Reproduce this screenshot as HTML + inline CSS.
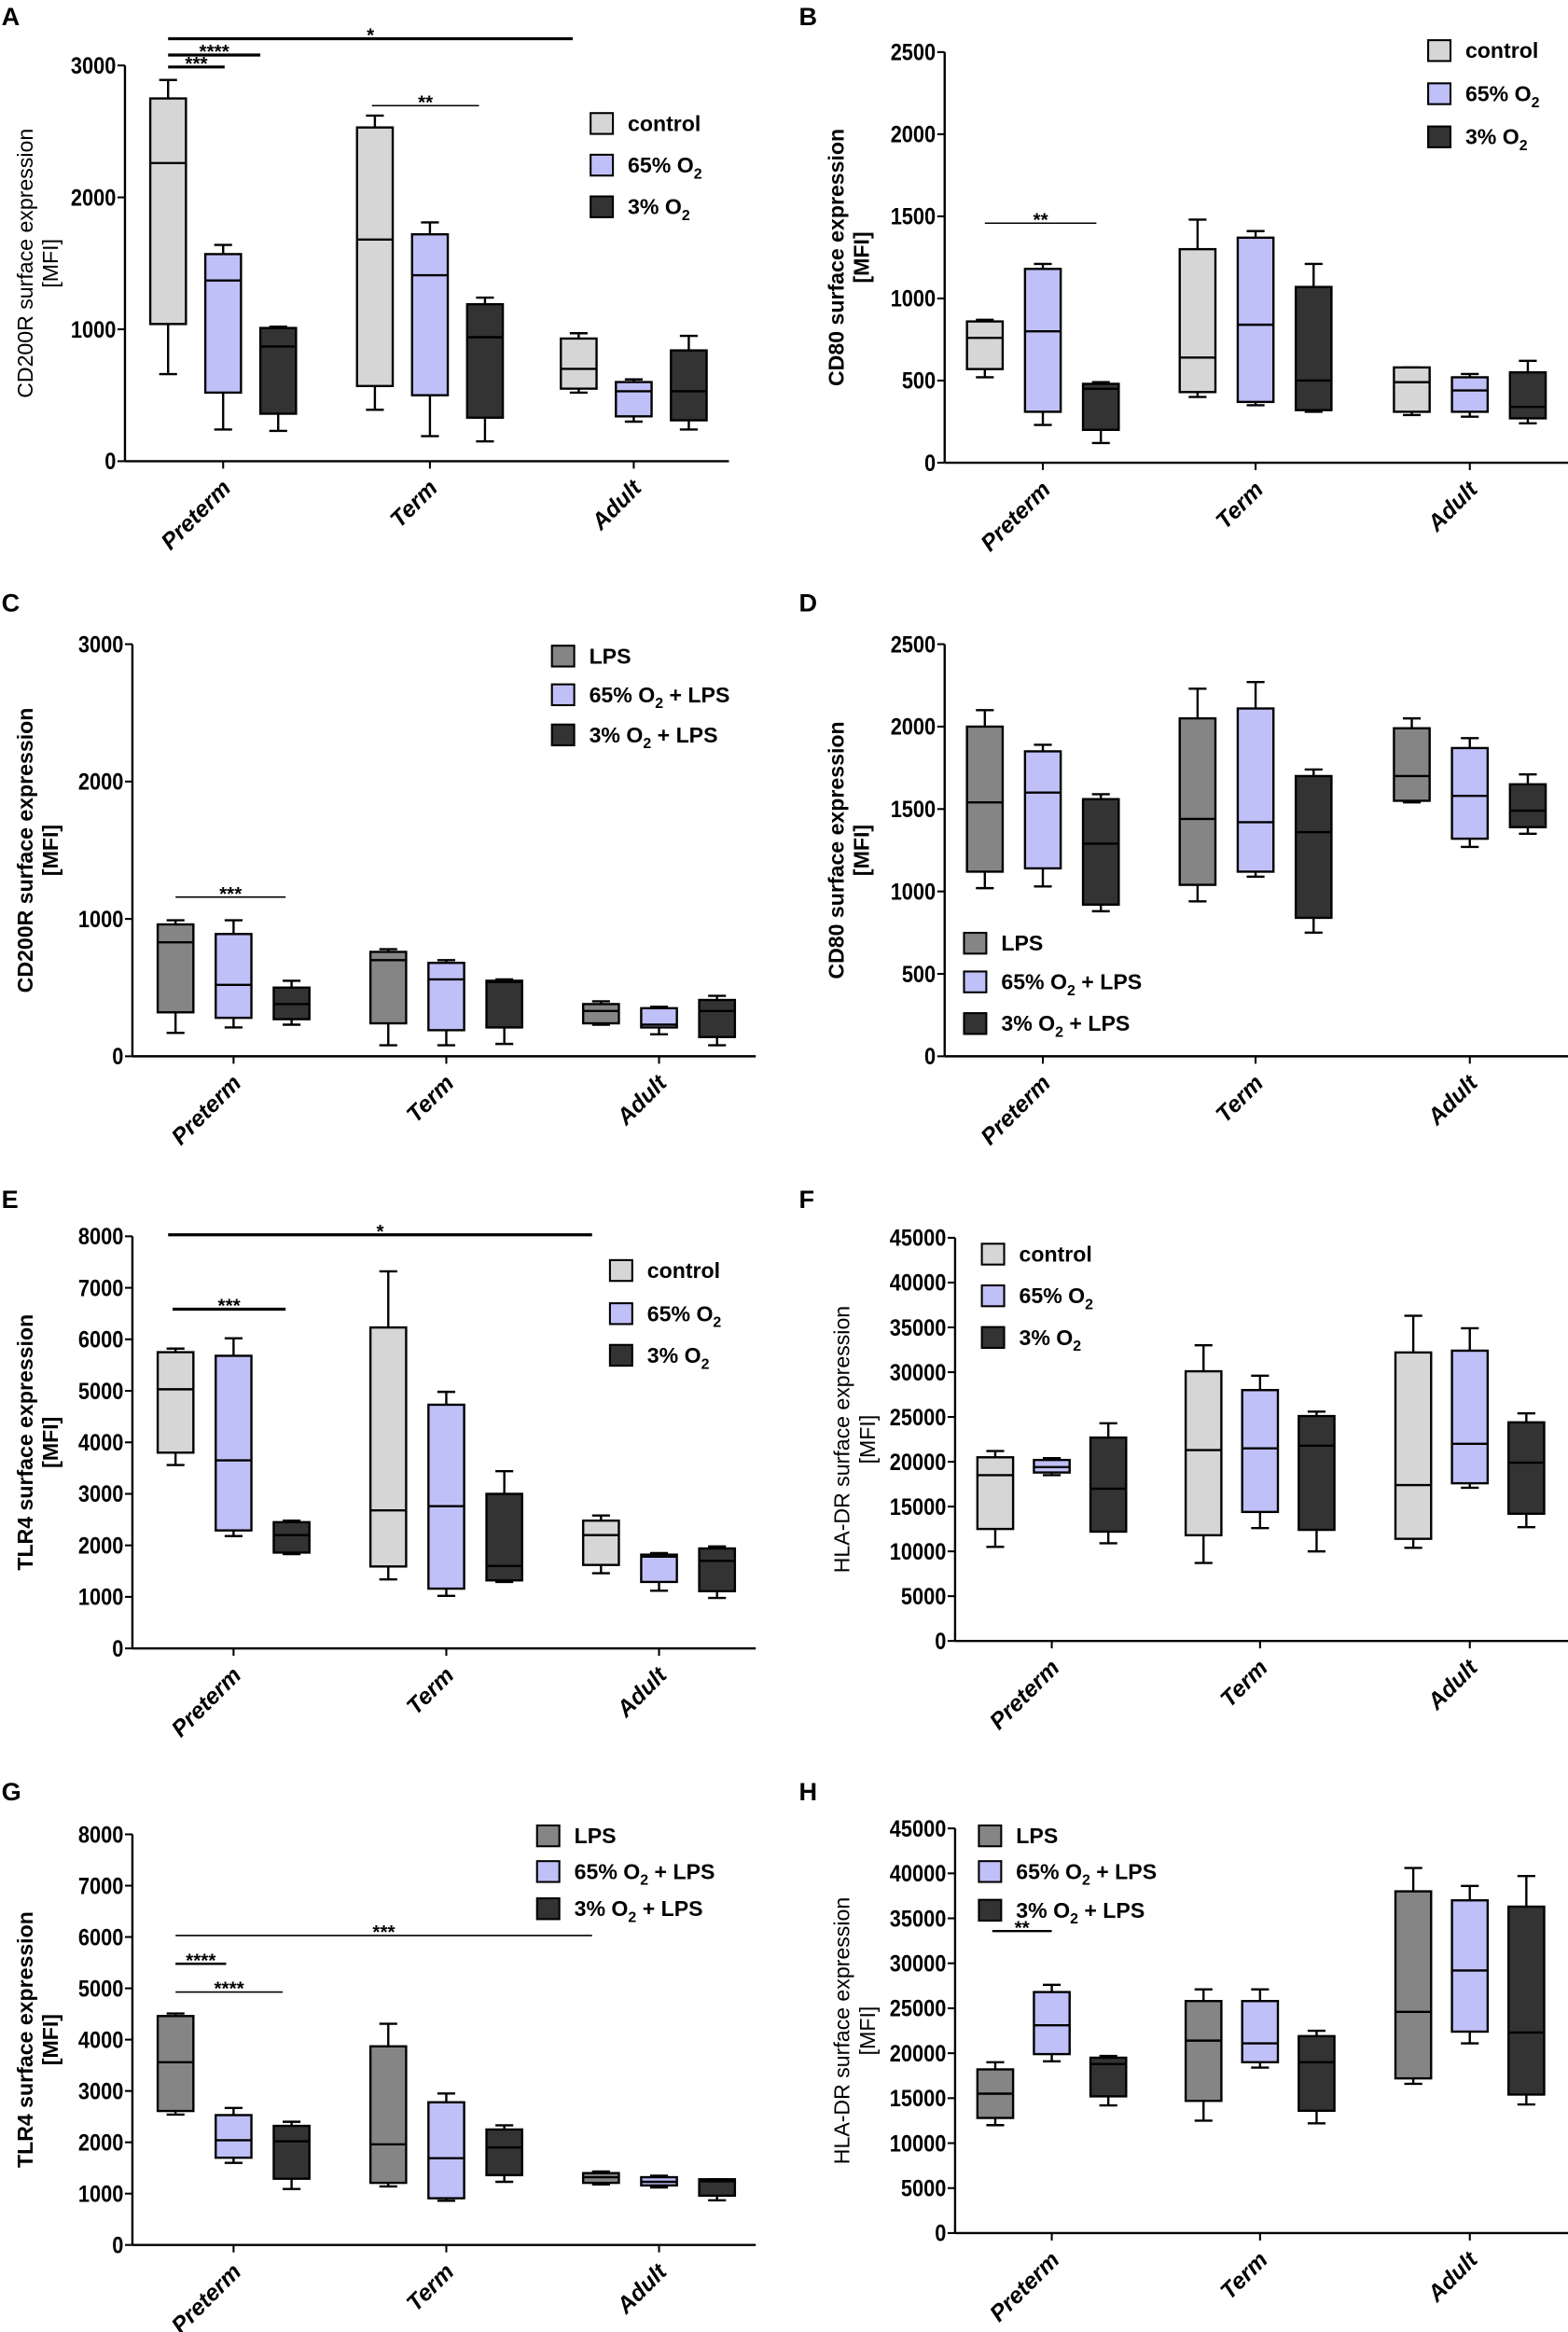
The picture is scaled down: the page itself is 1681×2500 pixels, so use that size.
<!DOCTYPE html>
<html><head><meta charset="utf-8"><style>
html,body{margin:0;padding:0;background:#fff;}
svg{display:block;font-family:"Liberation Sans",Arial,sans-serif;}
</style></head><body>
<svg id="fig" width="1681" height="2500" viewBox="0 0 1054 1567.5" xmlns="http://www.w3.org/2000/svg"></svg>
<script>
const categories = ['Preterm','Term','Adult'];
// each entry: [max, q3, median, q1, min] per category
const A_control = [[2890,2750,2260,1040,660],[2620,2530,1680,570,390],[970,930,700,550,520]];
const A_o65 = [[1640,1570,1370,520,240],[1810,1720,1410,500,190],[620,600,530,340,300]];
const A_o3 = [[1020,1010,870,360,230],[1240,1190,940,330,150],[950,840,530,310,240]];
const B_control = [[870,860,760,570,520],[1480,1300,640,430,400],[580,580,490,310,290]];
const B_o65 = [[1210,1180,800,310,230],[1410,1370,840,370,350],[540,520,440,310,280]];
const B_o3 = [[490,480,450,200,120],[1210,1070,500,320,310],[620,550,340,270,240]];
const C_lps = [[990,960,830,320,170],[780,760,700,240,80],[400,380,330,240,230]];
const C_o65 = [[990,890,520,280,210],[700,680,560,190,80],[360,350,230,210,160]];
const C_o3 = [[550,500,380,270,230],[560,550,540,210,90],[440,410,330,140,80]];
const D_lps = [[2100,2000,1540,1120,1020],[2230,2050,1440,1040,940],[2050,1990,1700,1550,1540]];
const D_o65 = [[1890,1850,1600,1140,1030],[2270,2110,1420,1120,1090],[1930,1870,1580,1320,1270]];
const D_o3 = [[1590,1560,1290,920,880],[1740,1700,1360,840,750],[1710,1650,1490,1390,1350]];
const E_control = [[5820,5750,5030,3800,3560],[7320,6230,2680,1590,1340],[2580,2480,2200,1620,1460]];
const E_o65 = [[6020,5680,3650,2290,2180],[4980,4730,2760,1160,1020],[1850,1820,1780,1290,1120]];
const E_o3 = [[2480,2450,2200,1860,1830],[3440,3000,1600,1320,1290],[1980,1940,1700,1110,980]];
const F_control = [[21200,20500,18500,12500,10500],[33000,30100,21300,11800,8700],[36300,32200,17400,11400,10400]];
const F_o65 = [[20400,20200,19400,18800,18500],[29600,28000,21500,14400,12600],[34900,32400,22000,17600,17100]];
const F_o3 = [[24300,22700,17000,12200,10900],[25600,25100,21800,12400,10000],[25400,24400,19900,14200,12700]];
const G_lps = [[4510,4460,3560,2610,2540],[4310,3870,1960,1210,1140],[1430,1400,1320,1210,1180]];
const G_o65 = [[2670,2530,2040,1700,1600],[2950,2780,1690,910,860],[1350,1320,1230,1160,1120]];
const G_o3 = [[2400,2320,2020,1290,1090],[2330,2250,1900,1360,1230],[1280,1280,1240,960,870]];
const H_lps = [[19000,18200,15500,12800,12000],[27100,25800,21400,14700,12500],[40600,38000,24600,17200,16600]];
const H_o65 = [[27600,26800,23100,19900,19100],[27100,25800,21100,19000,18400],[38600,37000,29200,22400,21100]];
const H_o3 = [[19700,19500,18800,15200,14200],[22500,21900,19000,13600,12200],[39700,36300,22300,15400,14300]];
const ticksA = [0,1000,2000,3000];
const ticksB = [0,500,1000,1500,2000,2500];
const ticksE = [0,1000,2000,3000,4000,5000,6000,7000,8000];
const ticksF = [0,5000,10000,15000,20000,25000,30000,35000,40000,45000];

const NS='http://www.w3.org/2000/svg';
const svg=document.getElementById('fig');
function el(tag,attrs,parent,text){const e=document.createElementNS(NS,tag);for(const k in attrs)e.setAttribute(k,attrs[k]);if(text!==undefined)e.textContent=text;(parent||svg).appendChild(e);return e;}
const COL={control:'#d6d6d6',lps:'#858585',o65:'#c0c0f8',o3:'#333333'};

function panel(cfg){
  const g=el('g',{});
  
  
  const yS=v=>cfg.yBot-(v/cfg.max)*(cfg.yBot-cfg.yTop);
  const L=el('text',{x:cfg.lx,y:cfg.ly,'font-size':17,'font-weight':'bold'},g,cfg.letter);
  
  
  const ya=el('line',{x1:cfg.ax,x2:cfg.ax,y1:cfg.yTop,y2:cfg.yBot,stroke:'#000','stroke-width':1.5},g);
  
  
  cfg.ticks.forEach(t=>{
    const y=yS(t);
    el('line',{x1:cfg.ax-5,x2:cfg.ax,y1:y,y2:y,stroke:'#000','stroke-width':1.3},g);
    const s=String(t);
    const tl=el('text',{x:cfg.ax-6,y:y+5.5,'font-size':15.5,'font-weight':'bold','text-anchor':'end',textLength:s.length*7.6,lengthAdjust:'spacingAndGlyphs'},g,s);
    
    
  });
  const xa=el('line',{x1:cfg.ax,x2:cfg.xEnd,y1:cfg.yBot,y2:cfg.yBot,stroke:'#000','stroke-width':1.5},g);
  
  
  categories.forEach((c,i)=>{
    const x=cfg.cx[i];
    el('line',{x1:x,x2:x,y1:cfg.yBot,y2:cfg.yBot+5,stroke:'#000','stroke-width':1.3},g);
    const t=el('text',{x:x+6,y:cfg.yBot+19,'font-size':15.5,'font-weight':'bold','font-style':'italic','text-anchor':'end',transform:`rotate(-45 ${x+6} ${cfg.yBot+19})`},g,c);
    
    
  });
  const ymid=(cfg.yTop+cfg.yBot)/2;
  const tt=el('text',{'font-size':14.5,'font-weight':cfg.titleBold?'bold':'normal','text-anchor':'middle',transform:`translate(${cfg.tx},${ymid}) rotate(-90)`},g);
  
  
  el('tspan',{x:0,y:0},tt,cfg.title);
  el('tspan',{x:0,y:17},tt,'[MFI]');
  const bw=24;
  cfg.series.forEach((s,si)=>{
    s.data.forEach((d,ci)=>{
      const x=cfg.cx[ci]+(si-1)*cfg.off;
      const [mx,q3,md,q1,mn]=d.map(yS);
      const bg=el('g',{},g);
      
      
      el('line',{x1:x,x2:x,y1:mx,y2:q3,stroke:'#000','stroke-width':1.5},bg);
      el('line',{x1:x,x2:x,y1:q1,y2:mn,stroke:'#000','stroke-width':1.5},bg);
      el('line',{x1:x-6,x2:x+6,y1:mx,y2:mx,stroke:'#000','stroke-width':1.5},bg);
      el('line',{x1:x-6,x2:x+6,y1:mn,y2:mn,stroke:'#000','stroke-width':1.5},bg);
      el('rect',{x:x-bw/2,y:q3,width:bw,height:Math.max(q1-q3,1),fill:COL[s.key],stroke:'#000','stroke-width':1.5},bg);
      el('line',{x1:x-bw/2,x2:x+bw/2,y1:md,y2:md,stroke:'#000','stroke-width':1.5},bg);
    });
  });
  cfg.series.forEach((s,i)=>{
    const y=cfg.legY[i];
    const lg=el('g',{},g);
    
    
    el('rect',{x:cfg.legX,y:y-7,width:15,height:14,fill:COL[s.key],stroke:'#000','stroke-width':1.3},lg);
    const t=el('text',{x:cfg.legX+25,y:y+5,'font-size':14.5,'font-weight':'bold'},lg);
    s.label.forEach(p=>{
      if(p.sub) el('tspan',{'font-size':10,dy:4},t,p.sub);
      else if(p.after) el('tspan',{dy:-4},t,p.after);
      else el('tspan',{},t,p.t);
    });
  });
  (cfg.sig||[]).forEach(sg=>{
    const sgG=el('g',{},g);
    
    
    el('line',{x1:sg[0],x2:sg[1],y1:sg[2],y2:sg[2],stroke:'#000','stroke-width':sg[4]||1},sgG);
    el('text',{x:(sg[0]+sg[1])/2,y:sg[2]+2,'font-size':13,'font-weight':'bold','text-anchor':'middle'},sgG,sg[3]);
  });
}
const Lctrl=[{t:'control'}];
const L65=[{t:'65% O'},{sub:'2'}];
const L3=[{t:'3% O'},{sub:'2'}];
const Llps=[{t:'LPS'}];
const L65l=[{t:'65% O'},{sub:'2'},{after:' + LPS'}];
const L3l=[{t:'3% O'},{sub:'2'},{after:' + LPS'}];
const ctrlSeries=(a,b,c)=>[{key:'control',data:a,label:Lctrl},{key:'o65',data:b,label:L65},{key:'o3',data:c,label:L3}];
const lpsSeries=(a,b,c)=>[{key:'lps',data:a,label:Llps},{key:'o65',data:b,label:L65l},{key:'o3',data:c,label:L3l}];
const leftE={ax:89,cx:[157,300,443],xEnd:508,off:39,tx:22};
const rightB={ax:635,cx:[701,844,988],xEnd:1054,off:39,tx:567};
const rightF={ax:642,cx:[707,847,988],xEnd:1054,off:38,tx:571};

panel({letter:'A',lx:1,ly:17,ax:84,cx:[150,289,426],xEnd:490,off:37,tx:22,yTop:44,yBot:310,max:3000,ticks:ticksA,title:'CD200R surface expression',titleBold:false,
  series:ctrlSeries(A_control,A_o65,A_o3),legX:397,legY:[83,111,139],
  sig:[[113,385,26,'*',2],[113,175,37,'****',2],[113,151,45,'***',2],[250,322,71,'**',1]]});
panel(Object.assign({letter:'B',lx:537,ly:17,yTop:35,yBot:311,max:2500,ticks:ticksB,title:'CD80 surface expression',titleBold:true,
  series:ctrlSeries(B_control,B_o65,B_o3),legX:960,legY:[34,63,92],sig:[[662,737,150,'**',1]]},rightB));
panel(Object.assign({letter:'C',lx:1,ly:411,yTop:433,yBot:710,max:3000,ticks:ticksA,title:'CD200R surface expression',titleBold:true,
  series:lpsSeries(C_lps,C_o65,C_o3),legX:371,legY:[441,467,494],sig:[[118,192,603,'***',1]]},leftE));
panel(Object.assign({letter:'D',lx:537,ly:411,yTop:433,yBot:710,max:2500,ticks:ticksB,title:'CD80 surface expression',titleBold:true,
  series:lpsSeries(D_lps,D_o65,D_o3),legX:648,legY:[634,660,688]},rightB));
panel(Object.assign({letter:'E',lx:1,ly:812,yTop:831,yBot:1108,max:8000,ticks:ticksE,title:'TLR4 surface expression',titleBold:true,
  series:ctrlSeries(E_control,E_o65,E_o3),legX:410,legY:[854,883,911],sig:[[113,398,830,'*',2],[116,192,880,'***',2]]},leftE));
panel(Object.assign({letter:'F',lx:537,ly:812,yTop:832,yBot:1103,max:45000,ticks:ticksF,title:'HLA-DR surface expression',titleBold:false,
  series:ctrlSeries(F_control,F_o65,F_o3),legX:660,legY:[843,871,899]},rightF));
panel(Object.assign({letter:'G',lx:1,ly:1210,yTop:1233,yBot:1509,max:8000,ticks:ticksE,title:'TLR4 surface expression',titleBold:true,
  series:lpsSeries(G_lps,G_o65,G_o3),legX:361,legY:[1234,1258,1283],
  sig:[[118,398,1301,'***',1],[118,152,1320,'****',1.5],[118,190,1339,'****',1]]},leftE));
panel(Object.assign({letter:'H',lx:537,ly:1210,yTop:1229,yBot:1501,max:45000,ticks:ticksF,title:'HLA-DR surface expression',titleBold:false,
  series:lpsSeries(H_lps,H_o65,H_o3),legX:658,legY:[1234,1258,1284],sig:[[667,707,1298,'**',1.5]]},rightF));
</script>
</body></html>
